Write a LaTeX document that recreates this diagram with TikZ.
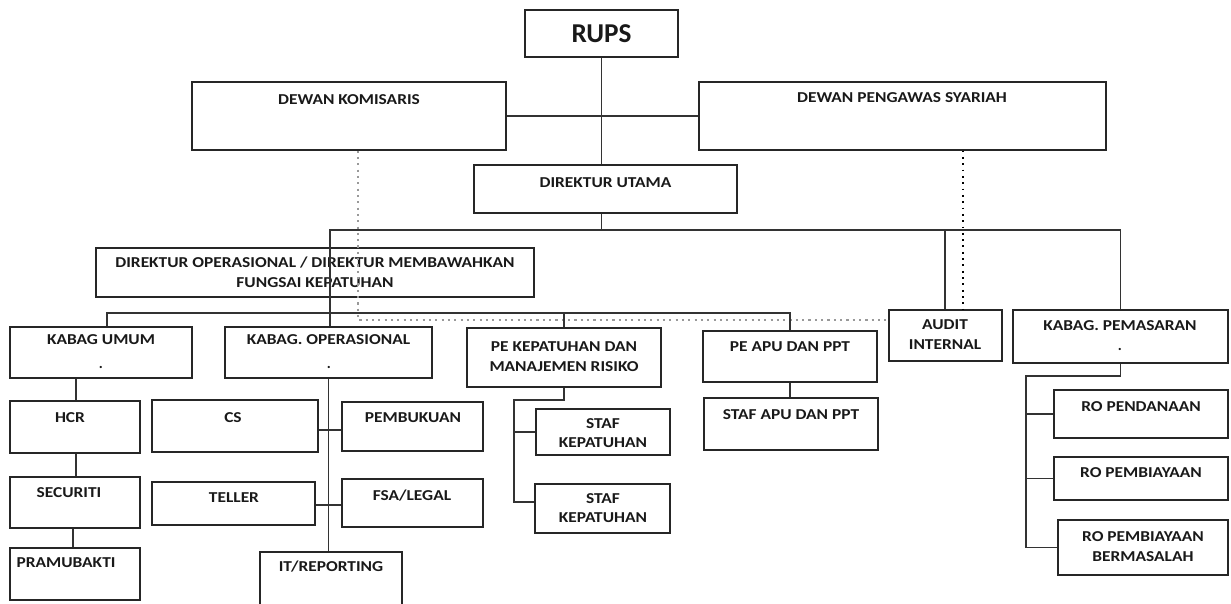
\documentclass[tikz,border=0pt]{standalone}
\usepackage{graphicx}
\usepackage{fontspec}
\setmainfont{Carlito}
\usetikzlibrary{fit}
\newcommand\mkbox[5]{\node[box, fit={(#2,#3)(#4,#5)}] (#1) {};}
\newcommand\lbltxt[4]{\node[lbl] (#1) at ({#2},{#3+4.8}) {\scalebox{1.15}[1]{#4}};}
\begin{document}
\begin{tikzpicture}[x=0.02cm,y=-0.02cm,
  box/.style={draw=black!85, line width=0.7pt, inner sep=0pt},
  lbl/.style={font=\bfseries\fontsize{8.6}{10}\selectfont, inner sep=0pt, anchor=base, text=black!90},
  conn/.style={draw=black!80, line width=0.6pt},
  dotg/.style={draw=black!40, line width=0.6pt, dash pattern=on 1.2pt off 2.4pt},
  dotk/.style={draw=black, line width=1.1pt, dash pattern=on 1pt off 2.6pt}]
\clip (0,0) rectangle (1231,603);
\fill[white] (0,0) rectangle (1231,603);
% boxes
\mkbox{rups}{525}{10}{678}{57}
\mkbox{dk}{192}{82}{506}{150}
\mkbox{dps}{699}{82}{1106}{150}
\mkbox{du}{474}{165}{737}{213}
\mkbox{dop}{96}{248}{534}{297}
\mkbox{kum}{10}{327}{192}{378}
\mkbox{kop}{225}{327}{432}{378}
\mkbox{pk}{467}{328}{661}{387}
\mkbox{papu}{703}{331}{877}{382}
\mkbox{audit}{889}{310}{1002}{361}
\mkbox{kpm}{1013}{310}{1228}{363}
\mkbox{hcr}{10}{401}{140}{453}
\mkbox{sec}{10}{477}{140}{528}
\mkbox{pra}{10}{548}{140}{600}
\mkbox{cs}{152}{400}{318}{452}
\mkbox{pb}{342}{402}{483}{451}
\mkbox{tel}{152}{482}{315}{525}
\mkbox{fsa}{342}{479}{483}{527}
\mkbox{it}{260}{552}{402}{615}
\mkbox{s1}{536}{409}{670}{455}
\mkbox{s2}{535}{484}{670}{533}
\mkbox{sapu}{704}{398}{878}{450}
\mkbox{ro1}{1054}{390}{1228}{438}
\mkbox{ro2}{1054}{457}{1228}{500}
\mkbox{ro3}{1058}{520}{1228}{575}
% texts
\node[lbl, font=\bfseries\fontsize{15.5}{18}\selectfont] (t-rups) at (601.5,42) {RUPS};
\lbltxt{t-dk}{349}{100}{DEWAN KOMISARIS}
\lbltxt{t-dps}{902}{98}{DEWAN PENGAWAS SYARIAH}
\lbltxt{t-du}{605.5}{183}{DIREKTUR UTAMA}
\lbltxt{t-dop1}{315}{263}{DIREKTUR OPERASIONAL / DIREKTUR MEMBAWAHKAN}
\lbltxt{t-dop2}{315}{283}{FUNGSAI KEPATUHAN}
\lbltxt{t-kum}{101}{340}{KABAG UMUM}
\node[lbl] (d-kum) at (101,368) {.};
\lbltxt{t-kop}{328.5}{340}{KABAG. OPERASIONAL}
\node[lbl] (d-kop) at (329,368) {.};
\lbltxt{t-pk1}{564}{347}{PE KEPATUHAN DAN}
\lbltxt{t-pk2}{564}{367}{MANAJEMEN RISIKO}
\lbltxt{t-papu}{790}{347}{PE APU DAN PPT}
\lbltxt{t-au1}{945}{325}{AUDIT}
\lbltxt{t-au2}{945}{345}{INTERNAL}
\lbltxt{t-kpm}{1120}{326}{KABAG. PEMASARAN}
\node[lbl] (d-kpm) at (1120,350) {.};
\lbltxt{t-hcr}{70}{418}{HCR}
\lbltxt{t-sec}{69}{493}{SECURITI}
\lbltxt{t-pra}{66}{563}{PRAMUBAKTI}
\lbltxt{t-cs}{233}{418}{CS}
\lbltxt{t-pb}{413}{418}{PEMBUKUAN}
\lbltxt{t-tel}{234}{498}{TELLER}
\lbltxt{t-fsa}{412}{496}{FSA/LEGAL}
\lbltxt{t-it}{331}{567}{IT/REPORTING}
\lbltxt{t-s1a}{603}{424}{STAF}
\lbltxt{t-s1b}{603}{443}{KEPATUHAN}
\lbltxt{t-s2a}{603}{499}{STAF}
\lbltxt{t-s2b}{603}{518}{KEPATUHAN}
\lbltxt{t-sapu}{791}{415}{STAF APU DAN PPT}
\lbltxt{t-ro1}{1141}{407}{RO PENDANAAN}
\lbltxt{t-ro2}{1141}{473}{RO PEMBIAYAAN}
\lbltxt{t-ro3a}{1143}{537}{RO PEMBIAYAAN}
\lbltxt{t-ro3b}{1143}{557}{BERMASALAH}
% helper coordinates
\coordinate (busL) at (330,230);
\coordinate (busA) at (945,230);
\coordinate (dg) at (358,320);
\coordinate (dkk) at (963,0);
\coordinate (busO) at (107,313);
\coordinate (hx) at (76,0);
\coordinate (sx) at (73,0);
\coordinate (r1) at (0,430);
\coordinate (r2) at (0,505);
\coordinate (k1) at (514,400);
\coordinate (k2) at (514,502);
\coordinate (m1) at (1026,376);
% connectors
\draw[conn] (rups.south) -- (rups.south |- du.north);
\draw[conn] (dk.east) -- (dps.west);
\draw[conn] (rups.south |- du.south) -- (rups.south |- busL);
\draw[conn] (busL |- kop.north) -- (busL) -- (busL -| kpm.north) -- (kpm.north);
\draw[conn] (busA) -- (busA |- audit.north);
\draw[dotg] (dg |- dk.south) -- (dg) -- (dg -| audit.west);
\draw[dotk] (dkk |- dps.south) -- (dkk |- audit.north);
\draw[conn] (busO |- kum.north) -- (busO) -- (busO -| papu.north) -- (papu.north);
\draw[conn] (pk.north) -- (pk.north |- busO);
\draw[conn] (hx |- kum.south) -- (hx |- hcr.north);
\draw[conn] (hx |- hcr.south) -- (hx |- sec.north);
\draw[conn] (sx |- sec.south) -- (sx |- pra.north);
\draw[conn] (kop.south) -- (kop.south |- it.north);
\draw[conn] (cs.east |- r1) -- (pb.west |- r1);
\draw[conn] (tel.east |- r2) -- (fsa.west |- r2);
\draw[conn] (pk.south) -- (pk.south |- k1) -- (k1) -- (k2) -- (k2 -| s2.west);
\draw[conn] (k1 |- s1.west) -- (s1.west);
\draw[conn] (papu.south) -- (papu.south |- sapu.north);
\draw[conn] (kpm.south) -- (kpm.south |- m1) -- (m1) -- (m1 |- ro3.west) -- (ro3.west);
\draw[conn] (m1 |- ro1.west) -- (ro1.west);
\draw[conn] (m1 |- ro2.west) -- (ro2.west);
\end{tikzpicture}
\end{document}
